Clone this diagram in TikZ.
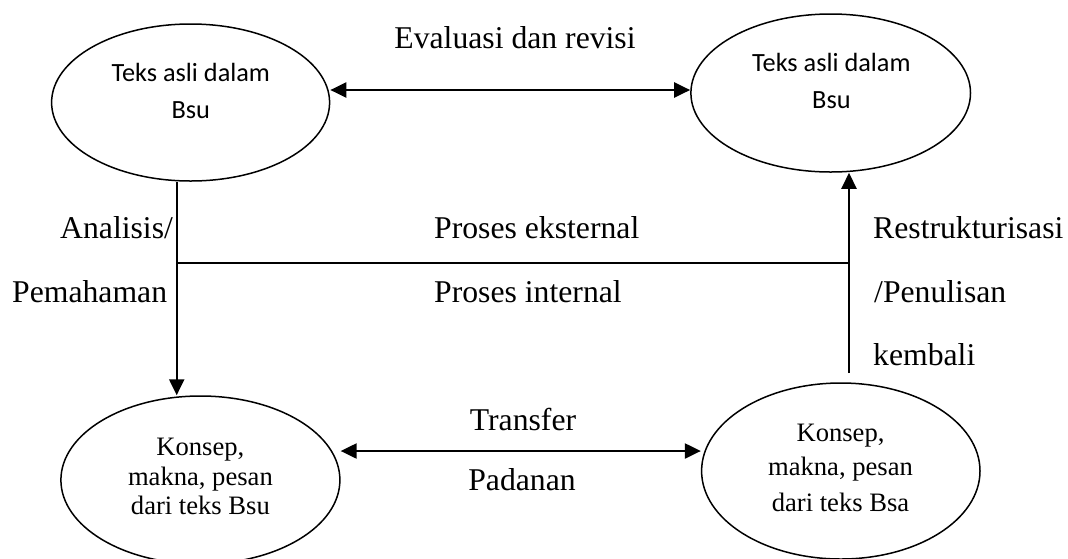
\documentclass[tikz,border=0pt]{standalone}
\usepackage{fontspec}
\setmainfont{Liberation Serif}
\newfontfamily\carfont{Carlito}
\usetikzlibrary{shapes.geometric,arrows.meta}
\tikzset{
  ell/.style={draw, ellipse, line width=1.5pt, inner sep=0pt},
  conn/.style={line width=2.2pt},
  sep/.style={line width=1.7pt},
  tip/.tip={Triangle[length=16pt,width=15pt]},
  arr/.style={conn, -tip},
  dbl/.style={conn, tip-tip},
  big/.style={font=\fontsize{31.7}{38}\selectfont, inner sep=0pt},
  cin/.style={font=\carfont\fontsize{26.3}{32}\selectfont, inner sep=0pt, anchor=base},
  tin/.style={font=\fontsize{26.6}{32}\selectfont, inner sep=0pt, anchor=base},
}
\begin{document}
\begin{tikzpicture}[x=1pt,y=-1pt]
\useasboundingbox (0,0) rectangle (1068,558);
% ellipses
\node[ell, minimum width=278pt, minimum height=157pt] (tl) at (190.6,102.5) {};
\node[ell, minimum width=279.6pt, minimum height=158pt] (tr) at (830.7,93) {};
\node[ell, minimum width=279pt, minimum height=168pt] (bl) at (200.4,480) {};
\node[ell, minimum width=278.4pt, minimum height=176pt] (br) at (840.8,471) {};
% ellipse texts
\node[cin] (tl1) at (190.8,81) {Teks asli dalam};
\node[cin] (tl2) at (190.8,118) {Bsu};
\node[cin] (tr1) at (831.4,71) {Teks asli dalam};
\node[cin] (tr2) at (831.4,108) {Bsu};
\node[tin] (bl1) at (200.4,455) {Konsep,};
\node[tin] (bl2) at (200.4,485) {makna, pesan};
\node[tin] (bl3) at (200.4,514) {dari teks Bsu};
\node[tin] (br1) at (840.5,441) {Konsep,};
\node[tin] (br2) at (840.5,475.5) {makna, pesan};
\node[tin] (br3) at (840.5,511) {dari teks Bsa};
% labels
\node[big, anchor=base] (eval) at (515,48.3) {Evaluasi dan revisi};
\node[big, anchor=base west] (anal) at (60,238) {Analisis/};
\node[big, anchor=base west] (pema) at (12,302) {Pemahaman};
\node[big, anchor=base west] (peks) at (434,238) {Proses eksternal};
\node[big, anchor=base west] (pint) at (434,302) {Proses internal};
\node[big, anchor=base west] (rest) at (873,238) {Restrukturisasi};
\node[big, anchor=base west] (penu) at (874,302) {/Penulisan};
\node[big, anchor=base west] (kemb) at (873,365) {kembali};
\node[big, anchor=base] (tran) at (523,430) {Transfer};
\node[big, anchor=base] (pada) at (522,490) {Padanan};
% helper coordinates
\coordinate (ta) at (0,90);
\coordinate (ba) at (0,451);
\coordinate (lx) at (176.7,0);
\coordinate (hl) at (176.7,263);
\coordinate (hr) at (849,263);
\coordinate (rb) at (849,373);
% connectors
\draw[dbl] (tl.east |- ta) -- (tr.west |- ta);
\draw[dbl] (bl.east |- ba) -- (br.west |- ba);
\draw[arr] (tl.south -| lx) -- (bl.north -| lx);
\draw[sep] (hl) -- (hr);
\draw[arr] (rb) -- (tr.south -| rb);
\end{tikzpicture}
\end{document}
